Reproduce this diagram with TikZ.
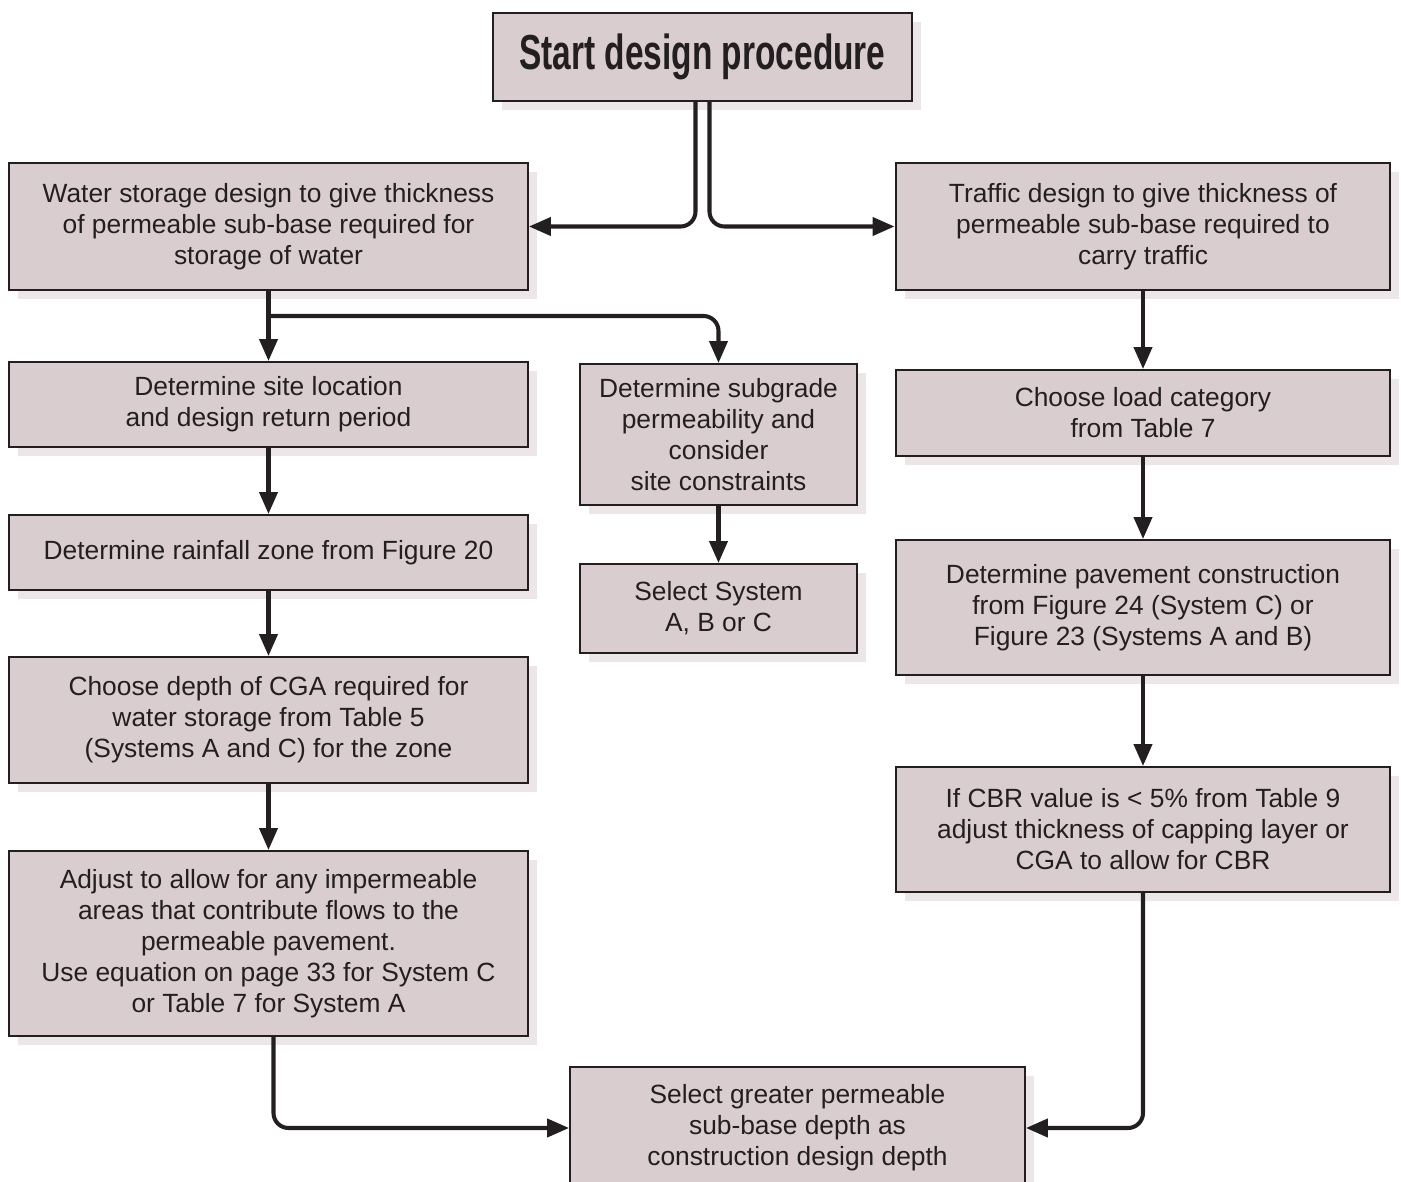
\documentclass[tikz,border=0pt]{standalone}
\usepackage{fontspec}
\setmainfont{Liberation Sans}
\usetikzlibrary{arrows.meta,shadows}
\definecolor{boxfill}{HTML}{D9CDD0}
\definecolor{boxshade}{HTML}{ECE6E8}
\definecolor{ink}{HTML}{231F20}

\begin{document}
\begin{tikzpicture}[x=0.02cm, y=-0.02cm]
	\tikzstyle{every node}=[inner sep=1pt, align=center, font=\fontsize{15}{17.6}\selectfont, text=ink]
	\tikzstyle{stage}=[draw=ink, line width=1.1pt, fill=boxfill, drop shadow={shadow xshift=0.18cm, shadow yshift=-0.18cm, fill=boxshade, opacity=1}]
	\tikzstyle{flow}=[-{Triangle[length=0.44cm, width=0.36cm]}, draw=ink, line width=2.3pt, rounded corners=0.3cm]
	\useasboundingbox (0,0) rectangle (1401,1182);
	\node[stage, minimum width=8.38cm, minimum height=1.76cm] (start) at (702.5, 57) {\fontsize{28}{30}\selectfont\scalebox{0.68}[1]{\bfseries Start design procedure}};
	\node[stage, minimum width=10.38cm, minimum height=2.54cm] (water) at (268.5, 226.5) {Water storage design to give thickness\\of permeable sub-base required for\\storage of water};
	\node[stage, minimum width=9.9cm, minimum height=2.54cm] (traffic) at (1143, 226.5) {Traffic design to give thickness of\\permeable sub-base required to\\carry traffic};
	\node[stage, minimum width=10.38cm, minimum height=1.7cm] (site) at (268.5, 404.5) {Determine site location\\and design return period};
	\node[stage, minimum width=5.54cm, minimum height=2.82cm] (subgrade) at (718.5, 434.5) {Determine subgrade\\permeability and\\consider\\site constraints};
	\node[stage, minimum width=10.38cm, minimum height=1.5cm] (rain) at (268.5, 552.5) {Determine rainfall zone from Figure 20};
	\node[stage, minimum width=5.54cm, minimum height=1.78cm] (system) at (718.5, 608.5) {Select System\\A, B or C};
	\node[stage, minimum width=10.38cm, minimum height=2.52cm] (cga) at (268.5, 720) {Choose depth of CGA required for\\water storage from Table 5\\(Systems A and C) for the zone};
	\node[stage, minimum width=10.38cm, minimum height=3.7cm] (adjust) at (268.5, 943.5) {Adjust to allow for any impermeable\\areas that contribute flows to the\\permeable pavement.\\Use equation on page 33 for System C\\or Table 7 for System A};
	\node[stage, minimum width=9.88cm, minimum height=1.72cm] (load) at (1143, 413) {Choose load category\\from Table 7};
	\node[stage, minimum width=9.88cm, minimum height=2.7cm] (pave) at (1143, 607.5) {Determine pavement construction\\from Figure 24 (System C) or\\Figure 23 (Systems A and B)};
	\node[stage, minimum width=9.88cm, minimum height=2.5cm] (cbr) at (1143, 829.5) {If CBR value is < 5\% from Table 9\\adjust thickness of capping layer or\\CGA to allow for CBR};
	\node[stage, minimum width=9.1cm, minimum height=2.44cm] (final) at (797.5, 1128) {Select greater permeable\\sub-base depth as\\construction design depth};
	\coordinate (branch) at (270, 316);
	% start splits to both sides
	\draw [flow] ([xshift=-0.14cm]start.south) |- (water);
	\draw [flow] ([xshift=0.14cm]start.south) |- (traffic);
	% water storage side
	\draw [flow] (water) -- (site);
	\draw [flow] (branch) -| (subgrade);
	\draw [flow] (site) -- (rain);
	\draw [flow] (rain) -- (cga);
	\draw [flow] (cga) -- (adjust);
	\draw [flow] (subgrade) -- (system);
	\draw [flow] ([xshift=0.1cm]adjust.south) |- (final);
	% traffic side
	\draw [flow] (traffic) -- (load);
	\draw [flow] (load) -- (pave);
	\draw [flow] (pave) -- (cbr);
	\draw [flow] (cbr) |- (final);
\end{tikzpicture}
\end{document}
